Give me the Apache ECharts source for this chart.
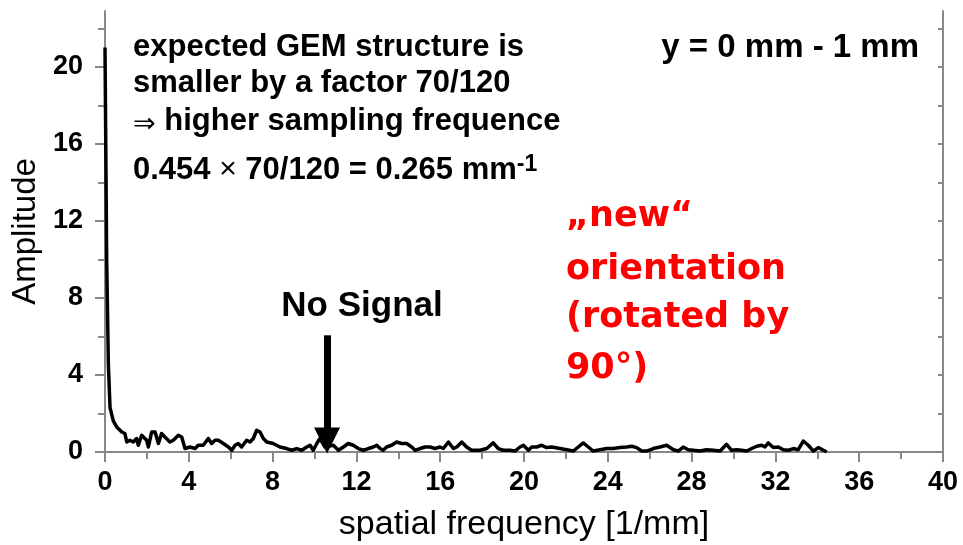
<!DOCTYPE html>
<html><head><meta charset="utf-8">
<script src="https://cdn.jsdelivr.net/npm/echarts@6/dist/echarts.min.js"></script>
<style>html,body{margin:0;padding:0;background:#fff}#c{width:963px;height:545px}</style>
</head><body><div id="c"></div>
<script>
// spectrum: [spatial frequency (1/mm), amplitude]
const spectrum = [
 [0,21.0],[0.08,10.0],[0.16,4.6],[0.24,2.3],[0.40,1.6],[0.56,1.30],[0.80,1.04],[0.95,0.96],[1.04,0.52],[1.19,0.61],
 [1.35,0.52],[1.51,0.70],[1.59,0.35],[1.75,0.87],[1.99,0.61],[2.07,0.26],[2.23,1.04],[2.39,1.04],[2.55,0.44],[2.70,0.96],
 [2.86,0.78],[3.10,0.52],[3.26,0.61],[3.50,0.87],[3.66,0.78],[3.82,0.18],[3.90,0.09],[4.06,0.26],[4.30,0.18],[4.45,0.35],
 [4.69,0.35],[4.93,0.70],[5.09,0.44],[5.25,0.61],[5.41,0.61],[5.65,0.44],[5.89,0.26],[6.05,0.09],[6.21,0.35],[6.36,0.44],
 [6.52,0.26],[6.76,0.61],[6.92,0.52],[7.08,0.70],[7.24,1.13],[7.40,1.04],[7.56,0.70],[7.72,0.52],[8.03,0.44],[8.35,0.26],
 [8.67,0.18],[8.91,0.09],[9.15,0.18],[9.39,0.09],[9.63,0.26],[9.79,0.35],[9.94,0.09],[10.11,0.44],[10.26,0.70],[10.50,0.26],
 [10.90,0.35],[11.14,0.09],[11.38,0.26],[11.61,0.44],[11.85,0.35],[12.09,0.18],[12.33,0.09],[12.57,0.18],[12.81,0.26],[12.97,0.35],
 [13.13,0.18],[13.28,0.09],[13.44,0.26],[13.68,0.35],[13.92,0.52],[14.16,0.44],[14.40,0.44],[14.64,0.26],[14.80,0.09],[15.04,0.18],
 [15.27,0.26],[15.51,0.26],[15.75,0.18],[15.99,0.26],[16.15,0.18],[16.39,0.52],[16.63,0.18],[16.79,0.26],[17.03,0.52],[17.26,0.26],
 [17.50,0.09],[17.74,0.09],[17.90,0.09],[18.22,0.18],[18.53,0.47],[18.77,0.18],[19.01,0.09],[19.33,0.09],[19.57,0.05],[19.81,0.26],
 [19.97,0.35],[20.21,0.09],[20.37,0.26],[20.61,0.26],[20.84,0.35],[21.08,0.23],[21.32,0.26],[21.72,0.18],[22.04,0.12],[22.35,0.05],
 [22.59,0.26],[22.83,0.47],[23.07,0.26],[23.31,0.05],[23.63,0.12],[23.95,0.18],[24.26,0.18],[24.58,0.23],[24.90,0.26],[25.14,0.30],
 [25.38,0.23],[25.62,0.05],[25.86,0.05],[26.17,0.18],[26.49,0.26],[26.81,0.35],[27.13,0.12],[27.37,0.05],[27.60,0.26],[27.84,0.12],
 [28.08,0.09],[28.40,0.05],[28.72,0.12],[29.04,0.09],[29.36,0.05],[29.67,0.40],[29.91,0.09],[30.15,0.12],[30.39,0.09],[30.63,0.05],
 [30.87,0.18],[31.11,0.30],[31.35,0.35],[31.50,0.26],[31.66,0.47],[31.90,0.23],[32.14,0.26],[32.38,0.12],[32.62,0.09],[32.86,0.18],
 [33.09,0.12],[33.33,0.57],[33.57,0.35],[33.81,0.05],[34.05,0.23],[34.29,0.09],[34.45,0.0]
];
const xMin = 0, xMax = 40, xStep = 4;
const yMin = 0, yMax = 22.9;
const yMajorTicks = [0, 4, 8, 12, 16, 20];
const yMinorTicks = [2, 6, 10, 14, 18, 22];
const yAllTicks = [0, 2, 4, 6, 8, 10, 12, 14, 16, 18, 20, 22];
// "No Signal" arrow (data coords)
const arrowX = 10.6, arrowFrom = 6.06, arrowTo = 0.6;

const F = '"Liberation Sans", Arial, sans-serif';
const R = '"DejaVu Sans", sans-serif';
const G = '#888';
const axLine = {lineStyle: {color: G, width: 2}};
const tickStyle = {color: G, width: 2};

const chart = echarts.init(document.getElementById('c'), null, {renderer: 'canvas'});
chart.setOption({
  animation: false,
  backgroundColor: '#fff',
  grid: {left: 105, right: 20, top: 11, bottom: 93, containLabel: false, outerBoundsMode: 'none'},
  xAxis: [
    {type: 'value', position: 'bottom', min: xMin, max: xMax, interval: xStep,
     axisLine: axLine, splitLine: {show: false},
     axisTick: {length: 10, lineStyle: tickStyle},
     minorTick: {show: true, splitNumber: 2, length: 7, lineStyle: tickStyle},
     axisLabel: {margin: 17, fontSize: 27, fontWeight: 'bold', color: '#000', fontFamily: F},
     name: 'spatial frequency [1/mm]', nameLocation: 'middle', nameGap: 56,
     nameTextStyle: {fontSize: 34, color: '#000', fontFamily: F}},
    {type: 'value', position: 'top', min: xMin, max: xMax, interval: xStep,
     axisLine: axLine, splitLine: {show: false},
     axisTick: {inside: true, length: 6, lineStyle: tickStyle},
     minorTick: {show: true, splitNumber: 2, length: 4, lineStyle: tickStyle},
     axisLabel: {show: false}}
  ],
  yAxis: [
    {type: 'value', position: 'left', min: yMin, max: yMax,
     axisLine: axLine, splitLine: {show: false},
     axisTick: {customValues: yMajorTicks, length: 10, lineStyle: tickStyle},
     axisLabel: {customValues: yMajorTicks, margin: 22, fontSize: 27, fontWeight: 'bold', color: '#000', fontFamily: F},
     name: 'Amplitude', nameLocation: 'middle', nameGap: 62,
     nameTextStyle: {fontSize: 33, color: '#000', fontFamily: F}},
    {type: 'value', position: 'left', min: yMin, max: yMax,
     axisLine: {show: false}, splitLine: {show: false},
     axisTick: {customValues: yMinorTicks, length: 7, lineStyle: tickStyle},
     axisLabel: {show: false}},
    {type: 'value', position: 'right', min: yMin, max: yMax,
     axisLine: axLine, splitLine: {show: false},
     axisTick: {customValues: yAllTicks, inside: true, length: 5, lineStyle: tickStyle},
     axisLabel: {show: false}}
  ],
  series: [{
    type: 'line', xAxisIndex: 0, yAxisIndex: 0, data: spectrum,
    symbol: 'none', showSymbol: false, smooth: false,
    lineStyle: {color: '#000', width: 3.5, join: 'round'},
    emphasis: {disabled: true},
    markLine: {
      silent: true, animation: false,
      symbol: ['none', 'triangle'], symbolSize: [26, 26],
      label: {show: false},
      lineStyle: {color: '#000', width: 7, type: 'solid'},
      emphasis: {disabled: true},
      data: [[{coord: [arrowX, arrowFrom]}, {coord: [arrowX, arrowTo]}]]
    }
  }],
  graphic: [
    {type: 'text', x: 133, y: 47, style: {text: 'expected GEM structure is', fontSize: 31, fontWeight: 'bold', fontFamily: F, fill: '#000', verticalAlign: 'middle'}},
    {type: 'text', x: 133, y: 83, style: {text: 'smaller by a factor 70/120', fontSize: 31, fontWeight: 'bold', fontFamily: F, fill: '#000', verticalAlign: 'middle'}},
    {type: 'text', x: 133, y: 121, style: {
      text: '{s|\u21D2}{b| higher sampling frequence}', verticalAlign: 'middle', fill: '#000',
      rich: {s: {fontSize: 27, fontFamily: R, fill: '#000', verticalAlign: 'bottom', lineHeight: 34},
             b: {fontSize: 31, fontWeight: 'bold', fontFamily: F, fill: '#000', lineHeight: 34}}}},
    {type: 'text', x: 133, y: 170, style: {
      text: '{b|0.454 }{m|\u00D7}{b| 70/120 = 0.265 mm}{p|-1}', verticalAlign: 'middle', fill: '#000',
      rich: {b: {fontSize: 31, fontWeight: 'bold', fontFamily: F, fill: '#000', lineHeight: 34},
             m: {fontSize: 30, fontFamily: F, fill: '#000', lineHeight: 34},
             p: {fontSize: 23, fontWeight: 'bold', fontFamily: F, fill: '#000', lineHeight: 22, verticalAlign: 'top'}}}},
    {type: 'text', x: 919, y: 48, style: {text: 'y = 0 mm - 1 mm', fontSize: 33, fontWeight: 'bold', fontFamily: F, fill: '#000', align: 'right', verticalAlign: 'middle'}},
    {type: 'text', x: 362, y: 306, style: {text: 'No Signal', fontSize: 35, fontWeight: 'bold', fontFamily: F, fill: '#000', align: 'center', verticalAlign: 'middle'}},
    {type: 'text', x: 566, y: 217, style: {text: '\u201Enew\u201C', fontSize: 35, fontWeight: 'bold', fontFamily: R, fill: '#ff0000', verticalAlign: 'middle'}},
    {type: 'text', x: 566, y: 270, style: {text: 'orientation', fontSize: 35, fontWeight: 'bold', fontFamily: R, fill: '#ff0000', verticalAlign: 'middle'}},
    {type: 'text', x: 566, y: 318, style: {text: '(rotated by', fontSize: 35, fontWeight: 'bold', fontFamily: R, fill: '#ff0000', verticalAlign: 'middle'}},
    {type: 'text', x: 566, y: 369, style: {text: '90\u00B0)', fontSize: 35, fontWeight: 'bold', fontFamily: R, fill: '#ff0000', verticalAlign: 'middle'}}
  ]
});
</script>
</body></html>
